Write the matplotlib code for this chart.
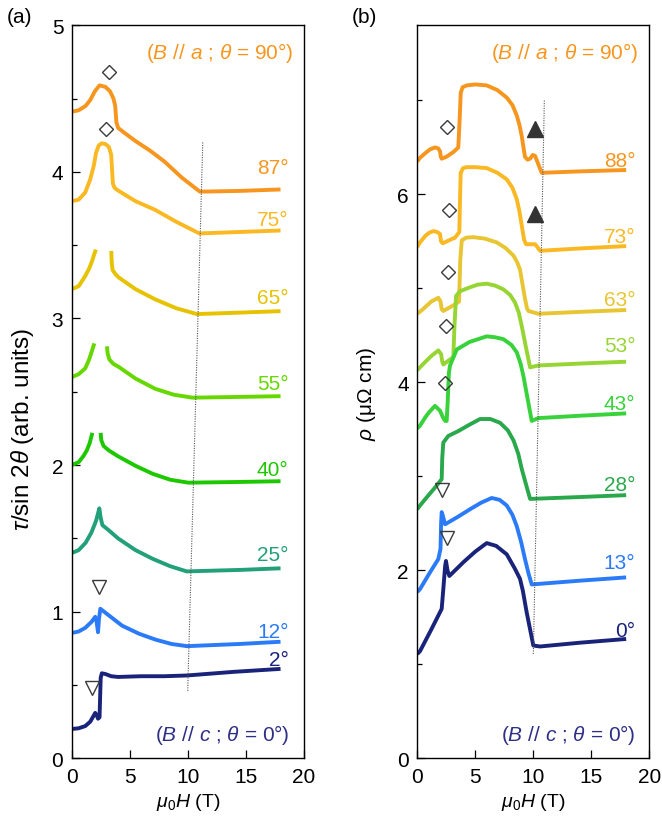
import numpy as np
import matplotlib
matplotlib.use("Agg")
import matplotlib.pyplot as plt

plt.rcParams['font.family'] = ['Liberation Sans', 'DejaVu Sans']
plt.rcParams['mathtext.fontset'] = 'custom'
plt.rcParams['mathtext.rm'] = 'Liberation Sans'
plt.rcParams['mathtext.it'] = 'Liberation Sans:italic'
plt.rcParams['mathtext.bf'] = 'Liberation Sans:bold'

nan = np.nan

# ---------- (a) torque, tau / sin 2theta ----------
a_angles = ["87°", "75°", "65°", "55°", "40°", "25°", "12°", "2°"]
a_colors = ["#F7961E", "#FAB823", "#E6C200", "#66D800", "#1EC800", "#22A07A", "#2B7BF8", "#1A237A"]

a_H = [
    [0, 0.6, 1.2, 1.6, 2.0, 2.4, 2.9, 3.3, 3.6, 3.75, 3.85, 4.0, 4.48, 5.5, 6.75, 8.0, 9.5, 11.05, 14.5, 18.0],
    [0, 0.6, 1.17, 1.6, 1.9, 2.1, 2.33, 2.6, 2.9, 3.2, 3.4, 3.55, 3.7, 4.05, 5.5, 7.21, 9.0, 11.0, 14.5, 18.0],
    [0, 0.6, 1.17, 1.5, 1.75, 1.95, 2.09, nan,
     3.41, 3.45, 3.53, 3.8, 4.05, 5.5, 7.21, 9.0, 10.8, 14.5, 18.0],
    [0, 0.6, 1.17, 1.5, 1.75, 1.95, nan,
     3.04, 3.1, 3.25, 3.6, 4.05, 5.5, 7.21, 8.8, 10.4, 14.5, 18.0],
    [0, 0.6, 1.0, 1.3, 1.55, 1.78, nan,
     2.5, 2.55, 2.75, 3.2, 4.0, 5.5, 7.0, 8.5, 10.05, 14.5, 18.0],
    [0, 0.6, 1.2, 1.7, 2.1, 2.3, 2.38, 2.5, 2.65, 3.2, 4.0, 5.5, 7.0, 8.5, 9.91, 14.5, 18.0],
    [0, 0.6, 1.17, 1.7, 2.03, 2.15, 2.27, 2.35, 2.47, 3.2, 4.34, 5.8, 7.21, 8.6, 9.94, 14.5, 18.0],
    [0, 0.6, 1.17, 1.6, 2.03, 2.15, 2.27, 2.4, 2.5, 2.6, 2.9, 3.4, 4.0, 6.0, 8.0, 9.94, 14.0, 18.0],
]
a_tau = [
    [4.41, 4.42, 4.45, 4.49, 4.55, 4.59, 4.58, 4.55, 4.50, 4.45, 4.34, 4.30, 4.27, 4.21, 4.145, 4.07, 3.96, 3.865, 3.87, 3.88],
    [3.80, 3.81, 3.86, 3.95, 4.04, 4.13, 4.18, 4.195, 4.19, 4.17, 4.12, 3.92, 3.89, 3.87, 3.80, 3.74, 3.66, 3.58, 3.59, 3.60],
    [3.20, 3.22, 3.29, 3.34, 3.39, 3.44, 3.47, nan,
     3.46, 3.38, 3.33, 3.30, 3.28, 3.20, 3.13, 3.07, 3.03, 3.04, 3.05],
    [2.60, 2.62, 2.66, 2.72, 2.78, 2.83, nan,
     2.81, 2.76, 2.72, 2.69, 2.67, 2.59, 2.52, 2.48, 2.46, 2.465, 2.47],
    [2.00, 2.02, 2.06, 2.10, 2.15, 2.22, nan,
     2.22, 2.17, 2.13, 2.10, 2.06, 1.995, 1.94, 1.90, 1.88, 1.885, 1.89],
    [1.40, 1.42, 1.47, 1.54, 1.62, 1.68, 1.705, 1.64, 1.59, 1.555, 1.50, 1.42, 1.36, 1.31, 1.275, 1.285, 1.296],
    [0.855, 0.865, 0.89, 0.93, 0.965, 0.93, 0.86, 0.95, 1.02, 0.975, 0.905, 0.85, 0.81, 0.78, 0.765, 0.78, 0.795],
    [0.20, 0.205, 0.22, 0.25, 0.31, 0.295, 0.27, 0.28, 0.55, 0.58, 0.575, 0.56, 0.555, 0.56, 0.56, 0.565, 0.59, 0.61],
]
# label baselines next to the high-field end of each trace
a_label_y = [3.99, 3.64, 3.105, 2.52, 1.93, 1.35, 0.83, 0.636]

a_diam_H = [3.24, 2.98]
a_diam_tau = [4.68, 4.29]
a_tri_H = [2.33, 1.75]
a_tri_tau = [1.17, 0.48]
a_guide_H = [10.0, 11.3]
a_guide_tau = [0.46, 4.21]

# ---------- (b) resistivity ----------
b_angles = ["88°", "73°", "63°", "53°", "43°", "28°", "13°", "0°"]
b_colors = ["#F7961E", "#FAB823", "#E8C532", "#96D534", "#38D23A", "#2AA84C", "#2B7BF8", "#1A237A"]

b_H = [
    [0, 0.23, 0.7, 1.1, 1.52, 1.8, 1.95, 2.03, 2.1, 2.5, 3.1, 3.53, 3.65, 3.74, 3.9, 4.25, 5.0, 5.98,
     6.9, 7.71, 8.2, 8.57, 8.8, 9.0, 9.15, 9.28, 9.5, 9.72, 9.95, 10.15, 10.4, 10.72, 14.0, 18.0],
    [0, 0.23, 0.7, 1.0, 1.38, 1.7, 1.95, 2.05, 2.19, 2.7, 3.25, 3.62, 3.68, 3.74, 3.95, 4.25, 5.0, 5.98,
     6.9, 7.71, 8.2, 8.57, 8.8, 9.0, 9.2, 9.37, 10.15, 10.35, 10.58, 14.0, 18.0],
    [0, 0.5, 1.2, 1.81, 2.0, 2.1, 2.24, 3.25, 3.6, 3.7, 3.83, 4.2, 4.83, 5.8, 6.84, 7.6, 8.28, 8.6,
     8.85, 9.1, 9.28, 9.45, 9.57, 10.43, 14.0, 18.0],
    [0, 0.23, 0.7, 1.2, 1.81, 2.05, 2.15, 2.24, 3.1, 3.2, 3.34, 3.68, 4.5, 5.2, 5.98, 6.7, 7.41, 8.0,
     8.42, 8.75, 9.0, 9.35, 9.72, 10.43, 14.0, 18.0],
    [0, 0.23, 0.7, 1.0, 1.52, 1.95, 2.2, 2.4, 2.53, 2.62, 2.72, 2.82, 3.4, 4.5, 5.98, 6.7, 7.41, 8.1,
     8.57, 8.9, 9.14, 9.5, 9.86, 10.43, 14.0, 18.0],
    [0, 0.23, 0.9, 1.52, 2.1, 2.15, 2.24, 2.67, 3.5, 4.5, 5.4, 6.3, 7.13, 7.8, 8.3, 8.7, 9.0, 9.4,
     9.72, 14.0, 18.0],
    [0, 0.23, 1.0, 1.81, 2.0, 2.05, 2.1, 2.2, 2.39, 3.5, 4.54, 5.5, 6.41, 7.1, 7.71, 8.2, 8.57, 8.95,
     9.28, 9.6, 9.86, 14.0, 18.0],
    [0, 0.23, 1.2, 2.1, 2.24, 2.4, 2.47, 2.6, 2.76, 4.0, 5.0, 5.98, 6.8, 7.71, 8.4, 8.85, 9.1, 9.43,
     10.0, 10.58, 14.0, 18.0],
]
b_rho = [
    [6.35, 6.39, 6.44, 6.48, 6.50, 6.49, 6.46, 6.40, 6.38, 6.40, 6.45, 6.50, 6.80, 7.08, 7.14, 7.16, 7.17, 7.16,
     7.11, 7.03, 6.95, 6.84, 6.74, 6.62, 6.50, 6.40, 6.37, 6.38, 6.42, 6.41, 6.33, 6.23, 6.245, 6.26],
    [5.44, 5.49, 5.56, 5.59, 5.61, 5.60, 5.58, 5.50, 5.48, 5.51, 5.54, 5.60, 5.95, 6.23, 6.28, 6.29, 6.29, 6.28,
     6.23, 6.16, 6.07, 5.95, 5.82, 5.67, 5.52, 5.47, 5.47, 5.44, 5.40, 5.425, 5.45],
    [4.73, 4.78, 4.86, 4.90, 4.86, 4.78, 4.76, 4.83, 4.86, 5.30, 5.51, 5.54, 5.545, 5.53, 5.49, 5.43, 5.35, 5.28,
     5.20, 5.02, 4.89, 4.79, 4.76, 4.73, 4.75, 4.77],
    [4.13, 4.16, 4.22, 4.28, 4.34, 4.30, 4.22, 4.19, 4.27, 4.60, 4.92, 4.97, 5.01, 5.04, 5.05, 5.03, 4.99, 4.93,
     4.85, 4.74, 4.60, 4.38, 4.16, 4.18, 4.20, 4.22],
    [3.51, 3.54, 3.63, 3.68, 3.75, 3.70, 3.63, 3.59, 3.59, 3.80, 4.10, 4.18, 4.35, 4.43, 4.49, 4.48, 4.46, 4.40,
     4.32, 4.20, 4.07, 3.83, 3.59, 3.62, 3.645, 3.67],
    [2.65, 2.69, 2.79, 2.88, 2.97, 3.20, 3.36, 3.43, 3.48, 3.55, 3.61, 3.61, 3.57, 3.49, 3.38, 3.24, 3.08, 2.90,
     2.76, 2.78, 2.80],
    [1.77, 1.80, 1.96, 2.12, 2.23, 2.50, 2.62, 2.58, 2.49, 2.57, 2.65, 2.72, 2.77, 2.75, 2.69, 2.59, 2.47, 2.30,
     2.12, 1.96, 1.85, 1.89, 1.925],
    [1.11, 1.14, 1.37, 1.59, 1.80, 2.05, 2.10, 2.00, 1.94, 2.09, 2.20, 2.29, 2.26, 2.17, 2.02, 1.91, 1.78, 1.55,
     1.20, 1.19, 1.23, 1.27],
]
b_label_y = [6.30, 5.49, 4.82, 4.33, 3.72, 2.86, 2.02, 1.30]

b_diam_H = [2.53, 2.73, 2.63, 2.45, 2.35]
b_diam_rho = [6.72, 5.83, 5.17, 4.60, 3.99]
b_tri_H = [2.16, 2.59]
b_tri_rho = [2.85, 2.34]
b_up_H = [10.15, 10.15]
b_up_rho = [6.70, 5.79]
b_guide_H = [10.0, 10.95]
b_guide_rho = [1.11, 7.01]

fig = plt.figure(figsize=(6.62, 8.2), dpi=100)
ax_a = fig.add_axes([0.1083, 0.074, 0.3505, 0.894])
ax_b = fig.add_axes([0.6304, 0.074, 0.3505, 0.894])

LW = 2.8
FS = 15
mk = dict(linestyle="none", markerfacecolor="none", markeredgecolor="#3a3a3a", markeredgewidth=1.0)

for H, y, c, lab, ly in zip(a_H, a_tau, a_colors, a_angles, a_label_y):
    ax_a.plot(H, y, color=c, lw=LW, solid_capstyle="butt", solid_joinstyle="round")
    ax_a.text(18.7, ly, lab, color=c, ha="right", va="baseline", fontsize=FS)
ax_a.plot(a_guide_H, a_guide_tau, color="#555555", lw=0.8, ls=(0, (1, 1.2)))
ax_a.plot(a_diam_H, a_diam_tau, marker="D", markersize=7, **mk)
ax_a.plot(a_tri_H, a_tri_tau, marker="v", markersize=10, **mk)

for H, y, c, lab, ly in zip(b_H, b_rho, b_colors, b_angles, b_label_y):
    ax_b.plot(H, y, color=c, lw=LW, solid_capstyle="butt", solid_joinstyle="round")
    ax_b.text(18.8, ly, lab, color=c, ha="right", va="baseline", fontsize=FS)
ax_b.plot(b_guide_H, b_guide_rho, color="#555555", lw=0.8, ls=(0, (1, 1.2)))
ax_b.plot(b_diam_H, b_diam_rho, marker="D", markersize=7, **mk)
ax_b.plot(b_tri_H, b_tri_rho, marker="v", markersize=10, **mk)
ax_b.plot(b_up_H, b_up_rho, marker="^", markersize=11, linestyle="none", color="#333333")

# axes cosmetics
ax_a.set_xlim(0, 20)
ax_a.set_ylim(0, 5)
ax_a.set_yticks(np.arange(0, 6, 1))
ax_a.set_yticks(np.arange(0.5, 5, 1), minor=True)
ax_b.set_xlim(0, 20)
ax_b.set_ylim(0, 7.8)
ax_b.set_yticks([0, 2, 4, 6])
ax_b.set_yticks([1, 3, 5, 7], minor=True)

for ax in (ax_a, ax_b):
    ax.set_xticks([0, 5, 10, 15, 20])
    ax.tick_params(which="both", direction="in", labelsize=FS, width=0.9)
    ax.tick_params(which="major", length=6, pad=6)
    ax.tick_params(which="minor", length=3.5)
    for s in ax.spines.values():
        s.set_linewidth(1.0)
    ax.set_xlabel(r"$\mu_0H$ (T)", fontsize=14, labelpad=4)

ax_a.set_ylabel(r"$\tau$/sin 2$\theta$ (arb. units)", fontsize=17.5)
ax_a.yaxis.set_label_coords(-0.155, 0.45)
ax_b.set_ylabel(r"$\rho$ ($\mathrm{\mu\Omega}$ cm)", fontsize=15)
ax_b.yaxis.set_label_coords(-0.168, 0.499)

ax_a.text(19.1, 4.82, r"($B$ // $a$ ; $\theta$ = 90°)", color="#F7961E", ha="right", va="center", fontsize=FS)
ax_a.text(18.8, 0.166, r"($B$ // $c$ ; $\theta$ = 0°)", color="#2E2F86", ha="right", va="center", fontsize=FS)
ax_b.text(19.05, 7.51, r"($B$ // $a$ ; $\theta$ = 90°)", color="#F7961E", ha="right", va="center", fontsize=FS)
ax_b.text(18.85, 0.26, r"($B$ // $c$ ; $\theta$ = 0°)", color="#2E2F86", ha="right", va="center", fontsize=FS)

fig.text(0.010, 0.979, "(a)", fontsize=FS, va="center", ha="left")
fig.text(0.531, 0.979, "(b)", fontsize=FS, va="center", ha="left")

fig.savefig("out.png", dpi=100)
